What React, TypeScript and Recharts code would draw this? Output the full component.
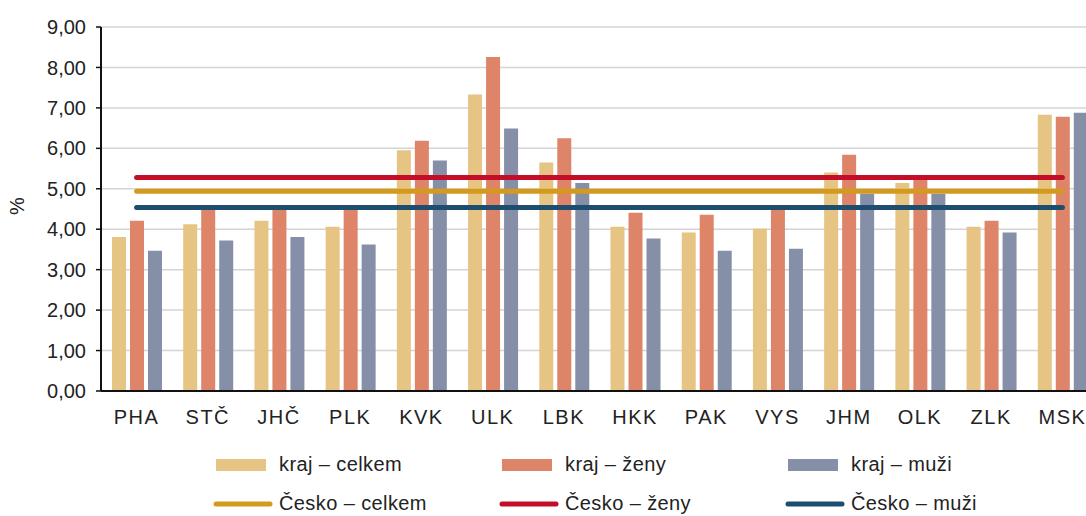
import React from 'react';
import { ComposedChart, Bar, Line, XAxis, YAxis, CartesianGrid, Legend } from 'recharts';

const regions = ['PHA', 'STČ', 'JHČ', 'PLK', 'KVK', 'ULK', 'LBK', 'HKK', 'PAK', 'VYS', 'JHM', 'OLK', 'ZLK', 'MSK'];

const krajCelkem = [3.81, 4.12, 4.21, 4.06, 5.95, 7.33, 5.65, 4.06, 3.92, 4.01, 5.40, 5.14, 4.06, 6.83];
const krajZeny = [4.21, 4.55, 4.55, 4.52, 6.19, 8.26, 6.25, 4.41, 4.36, 4.50, 5.84, 5.22, 4.21, 6.78];
const krajMuzi = [3.47, 3.72, 3.81, 3.62, 5.70, 6.49, 5.14, 3.77, 3.47, 3.52, 4.88, 4.88, 3.92, 6.88];

const ceskoCelkem = [4.94, 4.94, 4.94, 4.94, 4.94, 4.94, 4.94, 4.94, 4.94, 4.94, 4.94, 4.94, 4.94, 4.94];
const ceskoZeny = [5.28, 5.28, 5.28, 5.28, 5.28, 5.28, 5.28, 5.28, 5.28, 5.28, 5.28, 5.28, 5.28, 5.28];
const ceskoMuzi = [4.54, 4.54, 4.54, 4.54, 4.54, 4.54, 4.54, 4.54, 4.54, 4.54, 4.54, 4.54, 4.54, 4.54];

const yTicks = [0, 1, 2, 3, 4, 5, 6, 7, 8, 9];

const data = regions.map((name, i) => ({
  name,
  krajCelkem: krajCelkem[i],
  krajZeny: krajZeny[i],
  krajMuzi: krajMuzi[i],
  ceskoCelkem: ceskoCelkem[i],
  ceskoZeny: ceskoZeny[i],
  ceskoMuzi: ceskoMuzi[i],
}));

const FONT = '"Liberation Sans", Arial, sans-serif';
const TEXT = '#222';

const legendRows = [
  [
    { label: 'kraj – celkem', color: '#E6C484', type: 'rect' },
    { label: 'kraj – ženy', color: '#DD8469', type: 'rect' },
    { label: 'kraj – muži', color: '#8590A8', type: 'rect' },
  ],
  [
    { label: 'Česko – celkem', color: '#D39A1C', type: 'line' },
    { label: 'Česko – ženy', color: '#C30E2A', type: 'line' },
    { label: 'Česko – muži', color: '#1D4E6F', type: 'line' },
  ],
];

function ChartLegend() {
  return (
    <div style={{ fontFamily: FONT, fontSize: 20, color: TEXT, letterSpacing: 0.4 }}>
      {legendRows.map((row, r) => (
        <div key={r} style={{ display: 'flex', height: 39 }}>
          {row.map((item) => (
            <div key={item.label} style={{ width: 286, display: 'flex', alignItems: 'center' }}>
              <div style={{ width: 63, display: 'flex', alignItems: 'center' }}>
                {item.type === 'rect' ? (
                  <div style={{ width: 50, height: 12, background: item.color }} />
                ) : (
                  <svg width={60} height={8} style={{ marginLeft: -3 }}>
                    <line x1={3} y1={4} x2={57} y2={4} stroke={item.color} strokeWidth={5} strokeLinecap="round" />
                  </svg>
                )}
              </div>
              <span style={{ whiteSpace: 'nowrap' }}>{item.label}</span>
            </div>
          ))}
        </div>
      ))}
    </div>
  );
}

const PercentLabel = () => (
  <text
    x={17}
    y={206}
    transform="rotate(-90, 17, 206)"
    textAnchor="middle"
    dominantBaseline="central"
    fill={TEXT}
    fontSize={20}
    fontFamily={FONT}
  >
    %
  </text>
);

export default function App() {
  return (
    <div style={{ position: 'absolute', left: 0, top: 0, width: 1086, height: 516, overflow: 'hidden', background: '#fff' }}>
      <ComposedChart
        width={1098}
        height={516}
        data={data}
        margin={{ top: 27, right: 0, bottom: 95, left: 0 }}
        barSize={14}
        barGap={4}
      >
        <CartesianGrid vertical={false} stroke="#D4D4D4" strokeWidth={1.5} />
        <XAxis
          dataKey="name"
          height={30}
          tickLine={false}
          tickSize={0}
          tickMargin={19}
          axisLine={{ stroke: '#111', strokeWidth: 2 }}
          tick={{ fill: TEXT, fontSize: 20, fontFamily: FONT, letterSpacing: 1.5 }}
          interval={0}
        />
        <YAxis
          width={101}
          domain={[0, 9]}
          ticks={yTicks}
          tickSize={5}
          tickMargin={10}
          tickFormatter={(v: number) => v.toFixed(2).replace('.', ',')}
          axisLine={{ stroke: '#111', strokeWidth: 2 }}
          tickLine={{ stroke: '#111', strokeWidth: 1.5 }}
          tick={{ fill: TEXT, fontSize: 20, fontFamily: FONT }}
          label={<PercentLabel />}
        />
        <Legend
          layout="horizontal"
          verticalAlign="middle"
          align="center"
          wrapperStyle={{ top: 445, left: 216, width: 870, height: 78 }}
          content={() => <ChartLegend />}
        />
        <Bar dataKey="krajCelkem" name="kraj – celkem" fill="#E6C484" isAnimationActive={false} />
        <Bar dataKey="krajZeny" name="kraj – ženy" fill="#DD8469" isAnimationActive={false} />
        <Bar dataKey="krajMuzi" name="kraj – muži" fill="#8590A8" isAnimationActive={false} />
        <Line dataKey="ceskoCelkem" name="Česko – celkem" stroke="#D39A1C" strokeWidth={5} strokeLinecap="round" dot={false} activeDot={false} isAnimationActive={false} />
        <Line dataKey="ceskoZeny" name="Česko – ženy" stroke="#C30E2A" strokeWidth={5} strokeLinecap="round" dot={false} activeDot={false} isAnimationActive={false} />
        <Line dataKey="ceskoMuzi" name="Česko – muži" stroke="#1D4E6F" strokeWidth={5} strokeLinecap="round" dot={false} activeDot={false} isAnimationActive={false} />
      </ComposedChart>
    </div>
  );
}
